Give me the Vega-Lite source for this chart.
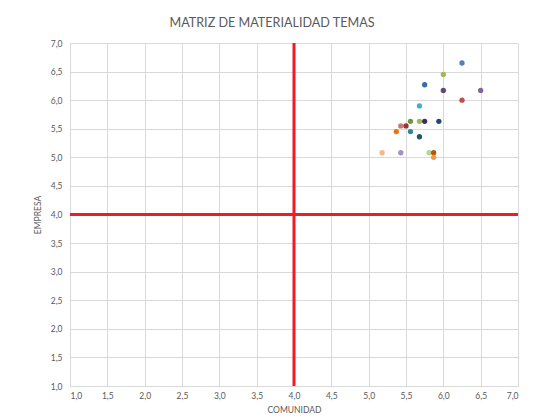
{
  "$schema": "https://vega.github.io/schema/vega-lite/v6.json",
  "width": 448,
  "height": 343,
  "autosize": {"type": "none"},
  "padding": {"left": 70, "top": 43, "right": 25, "bottom": 33},
  "background": "white",
  "title": {"text": "MATRIZ DE MATERIALIDAD TEMAS", "fontSize": 12.6, "font": "Lato", "fontWeight": "normal", "color": "#595959", "offset": 9, "anchor": "middle", "dx": -22},
  "config": {
    "view": {"stroke": null},
    "axis": {
      "grid": true, "gridColor": "#D9D9D9", "domainColor": "#D9D9D9", "ticks": false, "labelOverlap": false,
      "labelColor": "#595959", "labelFontSize": 8.5, "labelFont": "Lato",
      "titleColor": "#595959", "titleFontSize": 8.5, "titleFont": "Lato", "titleFontWeight": "normal"
    }
  },
  "layer": [
    {
      "data": {"values": [{"x": 4}]},
      "mark": {"type": "rule", "color": "#EE1C25", "strokeWidth": 3},
      "encoding": {
        "x": {"field": "x", "type": "quantitative", "title": "COMUNIDAD",
          "scale": {"domain": [1, 7], "nice": false, "zero": false},
          "axis": {"values": [1, 1.5, 2, 2.5, 3, 3.5, 4, 4.5, 5, 5.5, 6, 6.5, 7], "labelExpr": "replace(format(datum.value, '.1f'), '.', ',')", "labelPadding": 5, "titlePadding": 6}}
      }
    },
    {
      "data": {"values": [{"y": 4}]},
      "mark": {"type": "rule", "color": "#EE1C25", "strokeWidth": 3},
      "encoding": {
        "y": {"field": "y", "type": "quantitative", "title": "EMPRESA",
          "scale": {"domain": [1, 7], "nice": false, "zero": false},
          "axis": {"values": [1, 1.5, 2, 2.5, 3, 3.5, 4, 4.5, 5, 5.5, 6, 6.5, 7], "labelExpr": "replace(format(datum.value, '.1f'), '.', ',')", "labelPadding": 8, "titlePadding": 8}}
      }
    },
    {
      "data": {"values": [
        {"id": "t01", "comunidad": 6.25, "empresa": 6.65},
        {"id": "t02", "comunidad": 6.0, "empresa": 6.45},
        {"id": "t03", "comunidad": 5.75, "empresa": 6.27},
        {"id": "t04", "comunidad": 6.0, "empresa": 6.17},
        {"id": "t05", "comunidad": 6.5, "empresa": 6.17},
        {"id": "t06", "comunidad": 6.25, "empresa": 6.0},
        {"id": "t07", "comunidad": 5.68, "empresa": 5.9},
        {"id": "t08", "comunidad": 5.56, "empresa": 5.63},
        {"id": "t09", "comunidad": 5.68, "empresa": 5.63},
        {"id": "t10", "comunidad": 5.75, "empresa": 5.63},
        {"id": "t11", "comunidad": 5.94, "empresa": 5.63},
        {"id": "t12", "comunidad": 5.43, "empresa": 5.55},
        {"id": "t13", "comunidad": 5.5, "empresa": 5.55},
        {"id": "t14", "comunidad": 5.37, "empresa": 5.45},
        {"id": "t15", "comunidad": 5.56, "empresa": 5.45},
        {"id": "t16", "comunidad": 5.68, "empresa": 5.36},
        {"id": "t17", "comunidad": 5.18, "empresa": 5.08},
        {"id": "t18", "comunidad": 5.43, "empresa": 5.08},
        {"id": "t19", "comunidad": 5.81, "empresa": 5.08},
        {"id": "t20", "comunidad": 5.87, "empresa": 5.08},
        {"id": "t21", "comunidad": 5.87, "empresa": 5.0}
      ]},
      "mark": {"type": "circle", "size": 28, "opacity": 1},
      "encoding": {
        "x": {"field": "comunidad", "type": "quantitative", "title": "COMUNIDAD",
          "scale": {"domain": [1, 7], "nice": false, "zero": false},
          "axis": {"values": [1, 1.5, 2, 2.5, 3, 3.5, 4, 4.5, 5, 5.5, 6, 6.5, 7], "labelExpr": "replace(format(datum.value, '.1f'), '.', ',')", "labelPadding": 5, "titlePadding": 6}},
        "y": {"field": "empresa", "type": "quantitative", "title": "EMPRESA",
          "scale": {"domain": [1, 7], "nice": false, "zero": false},
          "axis": {"values": [1, 1.5, 2, 2.5, 3, 3.5, 4, 4.5, 5, 5.5, 6, 6.5, 7], "labelExpr": "replace(format(datum.value, '.1f'), '.', ',')", "labelPadding": 8, "titlePadding": 8}},
        "color": {"field": "id", "type": "nominal", "legend": null,
          "scale": {"range": ["#4F81BD", "#9BBB59", "#3A6BA5", "#604A7B", "#8064A2", "#C0504D", "#4BACC6", "#77933C", "#9BBB59", "#403152", "#1F497D", "#C57B7A", "#943634", "#F2700F", "#31859C", "#215968", "#FAB583", "#A392C2", "#B8D38F", "#B65708", "#F79646"]}}
      }
    }
  ]
}
